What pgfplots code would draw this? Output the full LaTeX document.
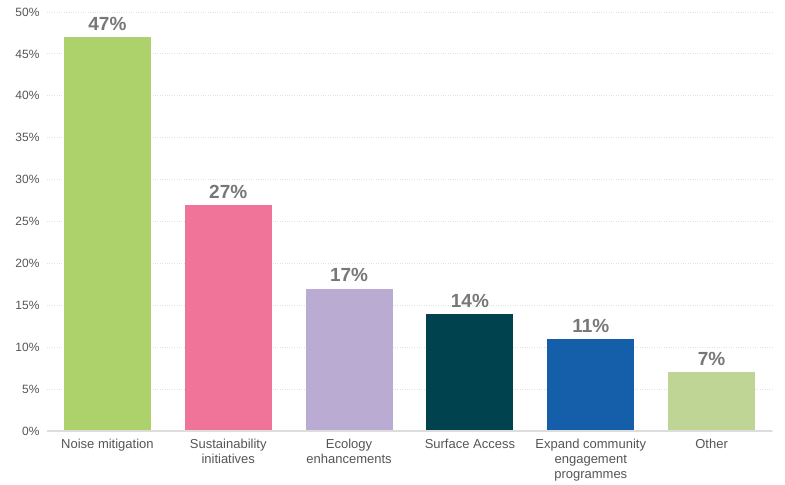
\documentclass[border=0pt]{standalone}
\usepackage{fontspec}
\setmainfont{Liberation Sans}
\usepackage{pgfplots}
\pgfplotsset{compat=1.18}
\definecolor{c1}{HTML}{AED26B}
\definecolor{c2}{HTML}{F0739A}
\definecolor{c3}{HTML}{BAABD2}
\definecolor{c4}{HTML}{00424D}
\definecolor{c5}{HTML}{155EAA}
\definecolor{c6}{HTML}{BFD596}
\definecolor{tickgray}{HTML}{555555}
\definecolor{labgray}{HTML}{777777}
\definecolor{gridgray}{HTML}{E2E2E2}
\definecolor{axisgray}{HTML}{DDDDDD}
\begin{document}
\begin{tikzpicture}
\begin{axis}[
  scale only axis,
  width=725pt, height=419pt,
  xmin=-0.5, xmax=5.5,
  ymin=0, ymax=50,
  ytick={0,5,...,50},
  yticklabel={\pgfmathprintnumber{\tick}\%},
  /pgf/number format/assume math mode=true,
  xtick={0,1,2,3,4,5},
  xticklabels={Noise mitigation, Sustainability\\initiatives, Ecology\\enhancements, Surface Access, Expand community\\engagement\\programmes, Other},
  xticklabel style={align=center, font=\fontsize{13}{15}\selectfont, text=tickgray, anchor=north, yshift=-5pt},
  yticklabel style={font=\fontsize{12}{14}\selectfont, text=tickgray, xshift=-4pt},
  major tick length=0pt,
  axis line style={draw=none},
  ymajorgrids,
  grid style={gridgray, dotted, line width=0.8pt},
  ybar, bar width=87pt, bar shift=0pt,
  nodes near coords={\pgfmathprintnumber[fixed,precision=0]{\pgfplotspointmeta}\%},
  nodes near coords style={font=\bfseries\fontsize{19}{21}\selectfont, text=labgray, anchor=south, yshift=3pt},
  clip=false,
]
\addplot[fill=c1, draw=none] coordinates {(0,47)};
\addplot[fill=c2, draw=none] coordinates {(1,27)};
\addplot[fill=c3, draw=none] coordinates {(2,17)};
\addplot[fill=c4, draw=none] coordinates {(3,14)};
\addplot[fill=c5, draw=none] coordinates {(4,11)};
\addplot[fill=c6, draw=none] coordinates {(5,7)};
\draw[axisgray, line width=2pt] (rel axis cs:0,0) -- (rel axis cs:1,0);
\end{axis}
\path ([xshift=-47pt,yshift=-52pt]current axis.south west) rectangle ([xshift=13pt,yshift=12pt]current axis.north east);
\end{tikzpicture}
\end{document}
